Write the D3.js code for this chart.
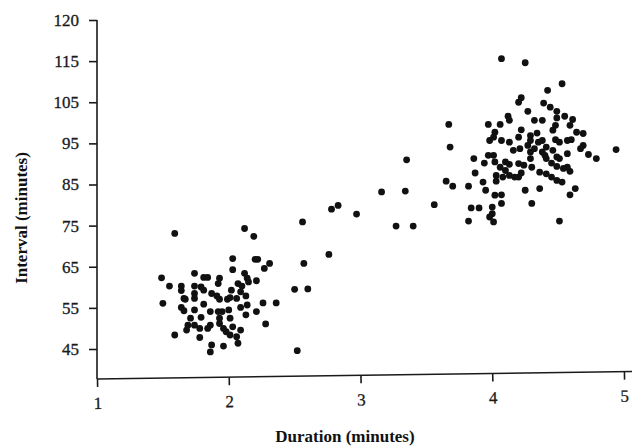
<!DOCTYPE html>
<html lang="en">
<head>
<meta charset="UTF-8">
<title>Old Faithful</title>
<script src="https://d3js.org/d3.v7.min.js"></script>
<style>
    body { margin: 0; background: #fff; }
    svg { display: block; }
    .axis text { font-family: "Liberation Serif", "DejaVu Serif", serif; font-size: 17px; fill: #1a1a1a; stroke: #1a1a1a; stroke-width: 0.3px; }
    .axis line, .axis-line { stroke: #1a1a1a; stroke-width: 1.6px; }
    .title { font-family: "Liberation Serif", serif; font-weight: bold; font-size: 17px; fill: #111; }
    .dot { fill: #111; }
</style>
</head>
<body>
<svg id="chart" width="632" height="447"></svg>
<script>
// eruption duration (minutes)
const duration = [
    1.59, 2.12, 2.19, 2.03, 2.20, 2.22, 2.31, 2.27, 2.03, 1.74, 1.81, 1.84, 1.49, 1.93, 2.12, 2.14,
    2.15, 2.21, 1.55, 1.64, 1.74, 1.79, 1.92, 2.07, 2.10, 1.81, 2.02, 1.64, 1.74, 1.87, 1.91, 1.93,
    2.09, 2.13, 1.66, 1.67, 1.74, 1.99, 2.01, 2.06, 1.50, 1.81, 2.36, 2.26, 2.14, 2.09, 1.64, 1.66,
    1.74, 1.86, 1.92, 1.95, 1.93, 2.00, 2.01, 2.21, 2.13, 1.71, 1.79, 1.69, 1.68, 1.74, 1.78, 1.86,
    1.84, 1.93, 1.96, 1.98, 2.03, 2.09, 2.01, 2.06, 2.28, 1.59, 1.78, 1.87, 1.86, 1.96, 2.07,
    // between the clusters
    2.50, 2.52, 2.60, 2.57, 2.56, 2.76, 2.78, 2.83, 2.97, 3.16, 3.34, 3.27, 3.40, 3.35, 3.56,
    3.65, 3.70, 3.67, 3.68, 3.82, 3.84, 3.90, 3.82, 3.86, 3.87,
    // long eruptions
    4.07, 4.25, 4.53, 4.42, 4.22, 4.20, 4.39, 4.44, 4.49, 4.27, 4.55, 4.61, 4.59, 4.12, 4.13, 4.32,
    4.38, 4.49, 4.48, 3.97, 4.06, 4.22, 4.29, 4.34, 4.02, 4.01, 4.46, 4.64, 4.69, 3.98, 4.07, 4.13,
    4.20, 4.29, 4.27, 4.35, 4.38, 4.41, 4.48, 4.51, 4.57, 4.60, 4.69, 4.67, 4.94, 4.16, 4.21, 4.29,
    4.32, 4.38, 4.40, 4.46, 4.49, 4.51, 4.57, 4.73, 4.79, 3.97, 4.01, 4.02, 4.06, 4.10, 4.13, 4.17,
    4.10, 4.13, 4.20, 4.24, 4.29, 4.30, 3.94, 4.41, 4.45, 4.49, 4.54, 4.57, 4.59, 4.36, 4.41, 4.45,
    4.49, 4.53, 4.22, 4.20, 4.03, 4.08, 3.93, 4.03, 3.95, 4.25, 4.36, 4.63, 4.59, 4.02, 4.07, 4.07,
    4.30, 4.00, 3.98, 4.01, 4.00, 4.51
];
// interval until next eruption (minutes)
const interval = [
    73.1, 74.3, 72.4, 67.0, 66.8, 66.8, 65.8, 64.6, 64.3, 63.4, 62.4, 62.4, 62.3, 62.2, 63.4, 62.2,
    61.3, 61.6, 60.3, 60.3, 60.3, 60.1, 60.9, 60.9, 60.3, 59.3, 59.3, 59.2, 58.5, 58.5, 57.9, 57.1,
    58.9, 57.9, 57.3, 57.1, 57.3, 57.1, 57.5, 57.3, 56.1, 55.9, 56.2, 56.2, 55.7, 55.1, 55.1, 54.3,
    54.5, 54.1, 54.1, 54.1, 52.5, 54.5, 52.5, 54.1, 53.3, 52.5, 52.7, 50.8, 49.6, 50.8, 50.0, 50.8,
    50.0, 51.2, 50.0, 49.2, 50.4, 49.6, 48.4, 48.0, 51.1, 48.4, 47.8, 46.0, 44.3, 45.7, 46.4,
    59.5, 44.6, 59.6, 65.8, 75.9, 68.0, 79.0, 79.9, 77.8, 83.2, 83.4, 74.9, 74.9, 91.0, 80.1,
    85.8, 84.6, 99.6, 94.1, 84.6, 79.3, 79.3, 76.1, 91.3, 87.8,
    115.6, 114.6, 109.5, 107.9, 106.1, 105.0, 104.8, 103.8, 102.8, 102.8, 101.6, 100.8, 99.4, 101.6, 100.6, 100.6,
    100.6, 101.2, 99.4, 99.6, 99.6, 98.3, 96.9, 97.5, 97.7, 96.5, 98.2, 97.7, 97.4, 95.7, 95.7, 95.3,
    96.5, 95.7, 94.5, 95.3, 95.7, 94.1, 95.9, 95.3, 95.7, 95.9, 94.5, 93.7, 93.5, 93.3, 93.7, 92.9,
    93.7, 92.9, 92.1, 93.3, 91.7, 91.3, 92.5, 92.3, 91.3, 92.1, 92.1, 90.5, 89.2, 88.4, 87.2, 86.8,
    90.5, 89.9, 90.1, 89.7, 91.3, 89.2, 90.2, 91.3, 90.2, 89.4, 88.9, 89.2, 88.2, 88.0, 87.6, 86.8,
    86.0, 85.6, 87.8, 86.8, 87.2, 86.8, 85.6, 85.8, 83.6, 83.6, 84.0, 84.0, 82.5, 82.4, 82.5, 80.4,
    80.4, 79.5, 77.1, 75.9, 77.9, 76.1
];

const xTicks = [1, 2, 3, 4, 5];
const yTicks = [45, 55, 65, 75, 85, 95, 105, 115, 125];
const yTickLabels = ["45", "55", "65", "75", "85", "95", "105", "115", "120"];

const svg = d3.select("#chart");

const x = d3.scaleLinear().domain([1, 5]).range([97, 624]);
const y = d3.scaleLinear().domain([45, 125]).range([349, 20]);
const axisY = 379;
const tilt = -0.8; // the printed x axis is slightly skewed

// x axis
const xg = svg.append("g")
    .attr("transform", `rotate(${tilt},${x(1)},${axisY})`);
xg.append("g")
    .attr("class", "axis")
    .attr("transform", `translate(0,${axisY})`)
    .call(d3.axisBottom(x).tickValues(xTicks).tickSize(8).tickPadding(10).tickFormat(d3.format("d")))
    .call(g => g.select(".domain").remove());
xg.append("line").attr("class", "axis-line")
    .attr("x1", x(1)).attr("x2", 640).attr("y1", axisY).attr("y2", axisY);

// y axis
svg.append("g")
    .attr("class", "axis")
    .attr("transform", `translate(${x(1)},0)`)
    .call(d3.axisLeft(y).tickValues(yTicks).tickSize(8).tickPadding(10).tickFormat((d, i) => yTickLabels[i]))
    .call(g => g.select(".domain").remove());
svg.append("line").attr("class", "axis-line")
    .attr("x1", x(1)).attr("x2", x(1)).attr("y1", y(125)).attr("y2", axisY);

// points
svg.selectAll(".dot")
    .data(duration.map((d, i) => [d, interval[i]]))
    .enter().append("circle")
    .attr("class", "dot")
    .attr("cx", d => x(d[0]))
    .attr("cy", d => y(d[1]))
    .attr("r", 3.4);

// titles
svg.append("text").attr("class", "title")
    .attr("x", 345).attr("y", 442)
    .attr("text-anchor", "middle")
    .text("Duration (minutes)");

svg.append("text").attr("class", "title")
    .attr("transform", "translate(27,218) rotate(-90)")
    .attr("text-anchor", "middle")
    .text("Interval (minutes)");
</script>
</body>
</html>
